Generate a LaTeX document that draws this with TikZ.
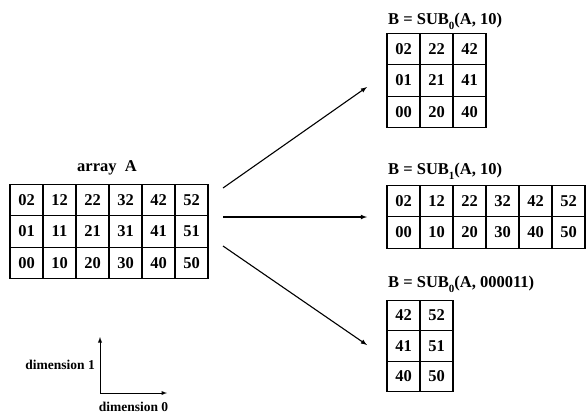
\documentclass[tikz,border=0pt]{standalone}
\usepackage{fontspec}
\setmainfont{Liberation Serif}
\usetikzlibrary{positioning,calc}

\tikzset{
  cell/.style={draw, line width=1.3pt, minimum width=33pt, minimum height=31.5pt,
    inner sep=0pt, font=\fontsize{16.5}{16.5}\selectfont\bfseries},
  title/.style={anchor=base west, inner sep=0pt, font=\fontsize{16.5}{16.5}\selectfont\bfseries},
  axislabel/.style={inner sep=0pt, font=\fontsize{13.5}{13.5}\selectfont\bfseries},
  fan/.style={-latex, line width=1.1pt}
}
\newcommand{\subidx}[1]{\raisebox{-5pt}{\fontsize{11}{11}\selectfont #1}}

\begin{document}
\begin{tikzpicture}[x=1pt, y=-1pt]
        \useasboundingbox (0,0) rectangle (586,416);

        % array A
        \node[anchor=base, inner sep=0pt, font=\fontsize{16.5}{16.5}\selectfont\bfseries] (titleA) at (107,171) {array\ \ A};
        \foreach \t [count=\i] in {02,12,22,32,42,52}
          \node[cell] (A-\t) at ({26.5+33*(\i-1)},200) {\t};
        \foreach \t [count=\i] in {01,11,21,31,41,51}
          \node[cell] (A-\t) at ({26.5+33*(\i-1)},231.5) {\t};
        \foreach \t [count=\i] in {00,10,20,30,40,50}
          \node[cell] (A-\t) at ({26.5+33*(\i-1)},263) {\t};

        % B = SUB_0(A, 10)
        \node[title] (titleB0) at (388,24) {B = SUB\subidx{0}(A, 10)};
        \foreach \t [count=\i] in {02,22,42}
          \node[cell] (B0-\t) at ({403.5+33*(\i-1)},49) {\t};
        \foreach \t [count=\i] in {01,21,41}
          \node[cell] (B0-\t) at ({403.5+33*(\i-1)},80.5) {\t};
        \foreach \t [count=\i] in {00,20,40}
          \node[cell] (B0-\t) at ({403.5+33*(\i-1)},112) {\t};

        % B = SUB_1(A, 10)
        \node[title] (titleB1) at (388,174) {B = SUB\subidx{1}(A, 10)};
        \foreach \t [count=\i] in {02,12,22,32,42,52}
          \node[cell] (B1-\t) at ({403.5+33*(\i-1)},201) {\t};
        \foreach \t [count=\i] in {00,10,20,30,40,50}
          \node[cell] (B1-\t) at ({403.5+33*(\i-1)},232.5) {\t};

        % B = SUB_0(A, 000011)
        \node[title] (titleB2) at (388,287) {B = SUB\subidx{0}(A, 000011)};
        \foreach \t [count=\i] in {42,52}
          \node[cell, minimum height=30.5pt] (B2-\t) at ({403.5+33*(\i-1)},315.5) {\t};
        \foreach \t [count=\i] in {41,51}
          \node[cell, minimum height=30.5pt] (B2-\t) at ({403.5+33*(\i-1)},346) {\t};
        \foreach \t [count=\i] in {40,50}
          \node[cell, minimum height=30.5pt] (B2-\t) at ({403.5+33*(\i-1)},376.5) {\t};

        % Arrows from A to the three B's
        \coordinate (fromTop) at (223,188);
        \coordinate (fromMid) at (223,217);
        \coordinate (fromBot) at (223,246);
        \coordinate (toB0) at (367,87);
        \coordinate (toB1) at (367,217);
        \coordinate (toB2) at (367,345);
        \draw[fan] (fromTop) -- (toB0);
        \draw[fan] (fromMid) -- (toB1);
        \draw[fan] (fromBot) -- (toB2);

        % Axis
        \coordinate (origin) at (100,393);
        \coordinate (dim1) at (100,337);
        \coordinate (dim0) at (167,393);
        \draw[-latex, line width=0.9pt] (origin) -- (dim1);
        \draw[-latex, line width=0.9pt] (origin) -- (dim0);
        \node[axislabel, left=5pt of $(origin)!0.5!(dim1)$] (labDim1) {dimension 1};
        \node[axislabel, below=9pt of $(origin)!0.5!(dim0)$] (labDim0) {dimension 0};
\end{tikzpicture}
\end{document}
